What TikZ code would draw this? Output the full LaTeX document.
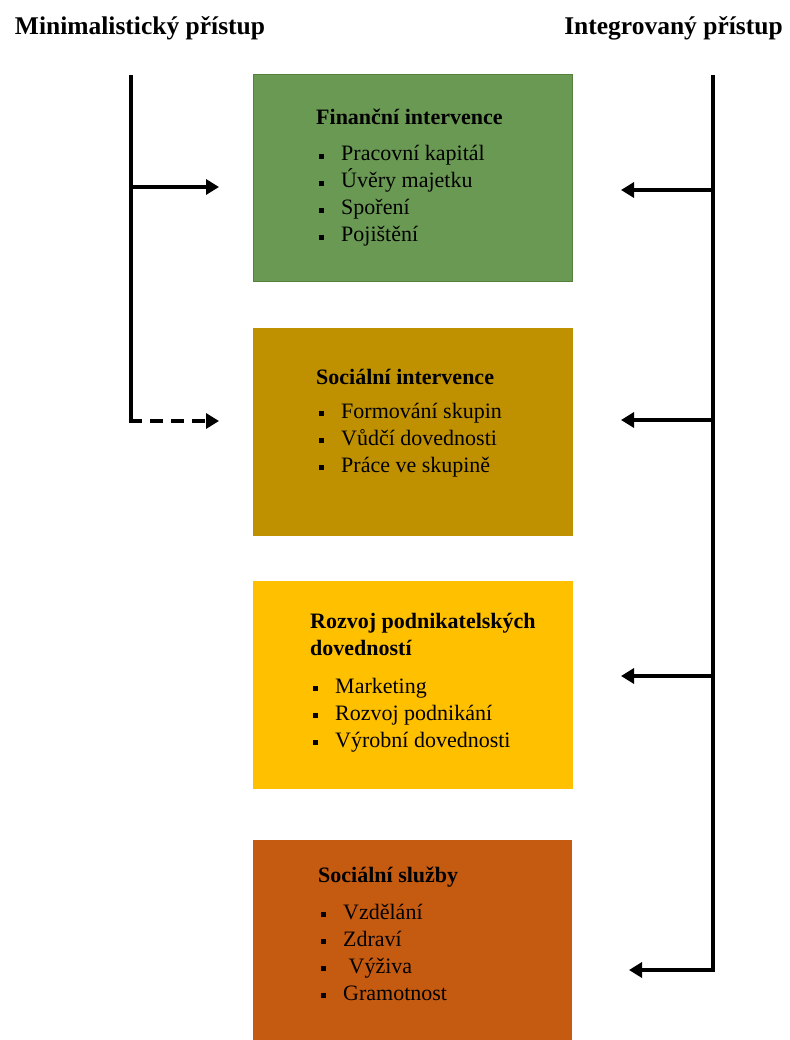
\documentclass[tikz,border=0pt]{standalone}
\usepackage{fontspec}
\setmainfont{Liberation Serif}
\usetikzlibrary{arrows.meta}
\definecolor{cgreen}{RGB}{106,153,83}
\definecolor{cgreenb}{RGB}{84,130,60}
\definecolor{cgold}{RGB}{191,144,0}
\definecolor{cyellow}{RGB}{255,192,0}
\definecolor{corange}{RGB}{197,90,17}
\newcommand{\bl}{\hspace*{3pt}\makebox[22pt][l]{\raisebox{2pt}{\rule{5pt}{5pt}}}}
\tikzset{
  box/.style={draw=#1, line width=0.8pt, minimum width=319pt, minimum height=207pt, inner sep=0pt},
  txt/.style={anchor=base west, inner sep=0pt, align=left, font=\fontsize{22}{27}\selectfont},
  head/.style={inner sep=0pt, font=\fontsize{25.5}{30}\selectfont\bfseries},
  conn/.style={line width=3.5pt},
  arr/.style={line width=3.5pt, -{Triangle[length=13pt,width=15pt]}},
}
\begin{document}
\begin{tikzpicture}[x=1pt,y=-1pt]
\useasboundingbox (0,0) rectangle (789,1040);
% headers
\node[head] (hmin) at (140,28) {Minimalistický přístup};
\node[head] (hint) at (673.5,28) {Integrovaný přístup};
% boxes
\node[box=cgreenb, fill=cgreen] (fin) at (412.5,177.5) {};
\node[box=cgold, fill=cgold] (soc) at (412.5,432) {};
\node[box=cyellow, fill=cyellow] (roz) at (412.5,685) {};
\fill[corange] (253,840) rectangle (572,1040);
\node[inner sep=0pt, minimum width=319pt, minimum height=200pt] (sl) at (412.5,940) {};
% texts (anchored at the baseline of the last line)
\node[txt] (fint) at (316,242) {\textbf{Finanční intervence}\\[9pt]
  \bl Pracovní kapitál\\ \bl Úvěry majetku\\ \bl Spoření\\ \bl Pojištění};
\node[txt] (soct) at (316,472) {\textbf{Sociální intervence}\\[7pt]
  \bl Formování skupin\\ \bl Vůdčí dovednosti\\ \bl Práce ve skupině};
\node[txt] (rozt) at (310,747) {\textbf{Rozvoj podnikatelských}\\ \textbf{dovedností}\\[11pt]
  \bl Marketing\\ \bl Rozvoj podnikání\\ \bl Výrobní dovednosti};
\node[txt] (slt) at (318,1000) {\textbf{Sociální služby}\\[10pt]
  \bl Vzdělání\\ \bl Zdraví\\ \bl \ Výživa\\ \bl Gramotnost};
% left connectors
\coordinate (ltop) at (131,75);
\coordinate (lj1) at (131,187);
\coordinate (lbot) at (131,421);
\coordinate (le1) at (219,187);
\coordinate (le2) at (219,421);
\draw[conn] (ltop) -- (lbot);
\draw[arr] (lj1) -- (le1);
\draw[arr, dash pattern=on 13pt off 8pt] ([xshift=-1.75pt]lbot) -- (le2);
% right connectors
\coordinate (rtop) at (713,75);
\coordinate (rj1) at (713,190);
\coordinate (rj2) at (713,420);
\coordinate (rj3) at (713,676);
\coordinate (rbot) at (713,970);
\coordinate (re1) at (621,190);
\coordinate (re2) at (621,420);
\coordinate (re3) at (621,676);
\coordinate (re4) at (629,970);
\draw[conn] (rtop) -- ([yshift=1.75pt]rbot);
\draw[arr] (rj1) -- (re1);
\draw[arr] (rj2) -- (re2);
\draw[arr] (rj3) -- (re3);
\draw[arr] ([xshift=1.75pt]rbot) -- (re4);
\end{tikzpicture}
\end{document}
